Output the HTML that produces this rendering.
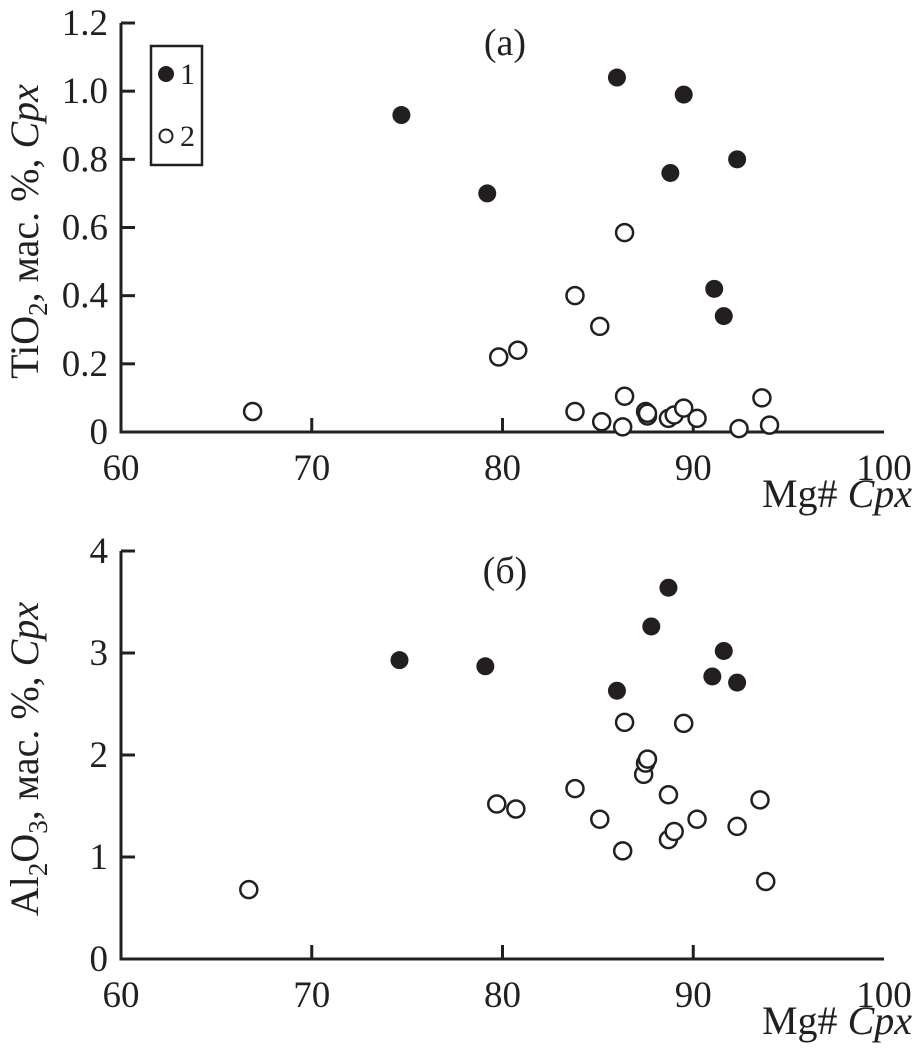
<!DOCTYPE html>
<html><head><meta charset="utf-8"><style>
body{margin:0;background:#fff}
svg{display:block;font-family:"Liberation Serif",serif;fill:#231f20}
</style></head><body>
<svg id="chart" width="915" height="1058" viewBox="0 0 915 1058" xmlns="http://www.w3.org/2000/svg">
<g id="pa"></g>
<g id="pb"></g>
</svg>
<script>
const xTicks=[60,70,80,90,100];
const aYTicks=[0,0.2,0.4,0.6,0.8,1.0,1.2];
const aYLabels=["0","0.2","0.4","0.6","0.8","1.0","1.2"];
const bYTicks=[0,1,2,3,4];
const bYLabels=["0","1","2","3","4"];
const aFilledX=[74.7,79.2,86.0,89.5,88.8,92.3,91.1,91.6];
const aFilledY=[0.93,0.70,1.04,0.99,0.76,0.80,0.42,0.34];
const aOpenX=[66.9,79.8,80.8,83.8,85.1,86.4,83.8,85.2,86.3,86.4,87.5,87.6,87.6,88.7,89.0,89.5,90.2,92.4,93.6,94.0];
const aOpenY=[0.06,0.22,0.24,0.40,0.31,0.585,0.06,0.03,0.015,0.105,0.06,0.047,0.055,0.04,0.05,0.07,0.04,0.01,0.10,0.02];
const bFilledX=[74.6,79.1,86.0,87.8,88.7,91.6,91.0,92.3];
const bFilledY=[2.93,2.87,2.63,3.26,3.64,3.02,2.77,2.71];
const bOpenX=[66.7,79.7,80.7,83.8,85.1,86.3,86.4,87.4,87.5,87.6,88.7,88.7,89.0,89.5,90.2,92.3,93.5,93.8];
const bOpenY=[0.68,1.52,1.47,1.67,1.37,1.06,2.32,1.81,1.92,1.96,1.61,1.17,1.25,2.31,1.37,1.30,1.56,0.76];
const NS="http://www.w3.org/2000/svg";
function mk(p,t,a){const e=document.createElementNS(NS,t);for(const k in a)e.setAttribute(k,a[k]);p.appendChild(e);return e;}
function panel(g,y0,y1,ymax,yT,yL,fx,fy,ox,oy,tag,titleHTML,pfx){
 const X=v=>121+(v-60)*(884-121)/40;
 const Y=v=>y0-(v/ymax)*(y0-y1);
 let e=mk(g,'path',{d:`M121 ${y1}H135M121 ${y1}V${y0}H${X(100)}`,stroke:'#231f20','stroke-width':3,fill:'none'});
 
 
 yT.forEach((v,i)=>{
  if(v>0&&v<ymax){const t=mk(g,'line',{x1:121,x2:135,y1:Y(v),y2:Y(v),stroke:'#231f20','stroke-width':3});
  
  }
  const l=mk(g,'text',{x:108,y:Y(v)+12,'text-anchor':'end','font-size':37});l.textContent=yL[i];
  
  
 });
 xTicks.forEach(v=>{
  if(v>60&&v<100){const t=mk(g,'line',{x1:X(v),x2:X(v),y1:y0,y2:y0-14,stroke:'#231f20','stroke-width':3});
  
  }
  const l=mk(g,'text',{x:X(v),y:y0+48,'text-anchor':'middle','font-size':37});l.textContent=v;
  
  
 });
 ox.forEach((v,i)=>{const c=mk(g,'circle',{cx:X(v),cy:Y(oy[i]),r:8.5,fill:'#fff',stroke:'#231f20','stroke-width':2.5});
  
  });
 fx.forEach((v,i)=>{const c=mk(g,'circle',{cx:X(v),cy:Y(fy[i]),r:9,fill:'#231f20'});
  
  });
 let t=mk(g,'text',{x:505,y:y1+32,'text-anchor':'middle','font-size':38});t.textContent=tag;
 
 
 t=mk(g,'text',{x:912,y:y0+75,'text-anchor':'end','font-size':40});t.innerHTML='Mg# <tspan font-style="italic">Cpx</tspan>';
 
 
 const cy=(y0+y1)/2;
 t=mk(g,'text',{x:0,y:0,'text-anchor':'middle','font-size':40,transform:`translate(38 ${cy+4}) rotate(-90)`});t.innerHTML=titleHTML;
 
 
}
panel(document.getElementById('pa'),432,23,1.2,aYTicks,aYLabels,aFilledX,aFilledY,aOpenX,aOpenY,'(а)','TiO<tspan font-size="27" dy="9">2</tspan><tspan dy="-9">, мас. %, </tspan><tspan font-style="italic">Cpx</tspan>','a');
panel(document.getElementById('pb'),959,551,4,bYTicks,bYLabels,bFilledX,bFilledY,bOpenX,bOpenY,'(б)','Al<tspan font-size="27" dy="9">2</tspan><tspan dy="-9">O</tspan><tspan font-size="27" dy="9">3</tspan><tspan dy="-9">, мас. %, </tspan><tspan font-style="italic">Cpx</tspan>','b');
const pa=document.getElementById('pa');
const lg=mk(pa,'g',{});


mk(lg,'rect',{x:151,y:46,width:51,height:119,fill:'none',stroke:'#231f20','stroke-width':2.5});
mk(lg,'circle',{cx:166,cy:74,r:8,fill:'#231f20'});
let lt=mk(lg,'text',{x:180,y:84,'font-size':30});lt.textContent='1';
mk(lg,'circle',{cx:166,cy:136,r:6.5,fill:'#fff',stroke:'#231f20','stroke-width':2});
lt=mk(lg,'text',{x:180,y:146,'font-size':30});lt.textContent='2';
</script>
</body></html>
